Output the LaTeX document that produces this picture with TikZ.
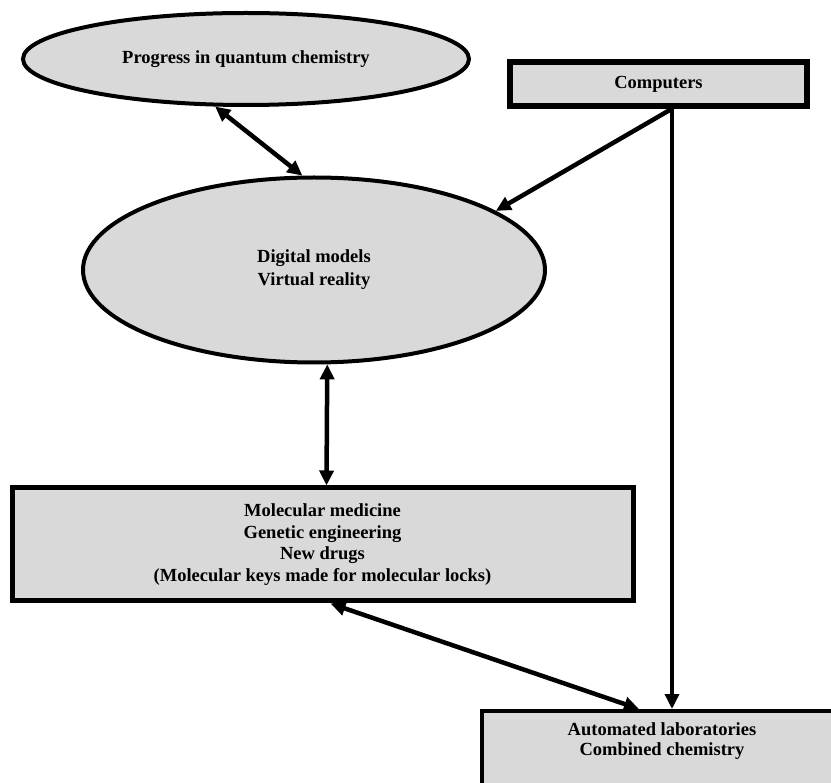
\documentclass[tikz,border=0pt]{standalone}
\usepackage{fontspec}
\setmainfont{Liberation Serif}
\usetikzlibrary{arrows.meta,shapes.geometric,calc}
\definecolor{boxgray}{RGB}{217,217,217}
\newcommand{\lblfont}{\fontsize{18.5}{21.5}\selectfont\bfseries}
\begin{document}
\begin{tikzpicture}[x=1pt,y=-1pt,
  oval/.style={ellipse, draw, line width=4pt, fill=boxgray, inner sep=0pt, font=\lblfont, align=center},
  panel/.style={rectangle, draw, line width=5pt, fill=boxgray, inner sep=0pt, font=\lblfont, align=center},
  link/.style={line width=4.5pt, -{Triangle[length=15pt,width=14pt]}},
  dlink/.style={line width=4.5pt, {Triangle[length=15pt,width=14pt]}-{Triangle[length=15pt,width=14pt]}},
]
\useasboundingbox (0,0) rectangle (831,783);
\fill[white] (0,0) rectangle (831,783);
\clip (0,0) rectangle (831,783);

\node[oval, minimum width=446pt, minimum height=92pt] (quant) at (246,59) {Progress in quantum chemistry};
\node[panel, line width=5.5pt, minimum width=297pt, minimum height=44pt] (comp) at (658.5,84) {Computers};
\node[oval, minimum width=462pt, minimum height=185pt] (mid) at (314,270) {Digital models\\[1.5pt]Virtual reality};
\node[panel, minimum width=621pt, minimum height=113pt] (mol) at (322.5,544.5) {Molecular medicine\\Genetic engineering\\New drugs\\(Molecular keys made for molecular locks)};
\node[panel, line width=4pt, anchor=north west, minimum width=360pt, minimum height=100pt,
  label={[anchor=north, yshift=-10pt, font=\lblfont, align=center]north:{Automated laboratories\\[-1.5pt]Combined chemistry}}] (auto) at (480,709) {};

\coordinate (cstart) at ([xshift=13.5pt]comp.south);

\draw[dlink] (quant.237) -- (mid.97);
\draw[link] (cstart) -- (mid.18.5);
\draw[dlink] (mid.-82) -- ([xshift=4pt]mol.north);
\draw[dlink] ([xshift=8pt]mol.south) -- ([xshift=-23pt]auto.north);
\draw[link, line width=3.5pt] (cstart) -- (cstart |- auto.north);
\end{tikzpicture}
\end{document}
